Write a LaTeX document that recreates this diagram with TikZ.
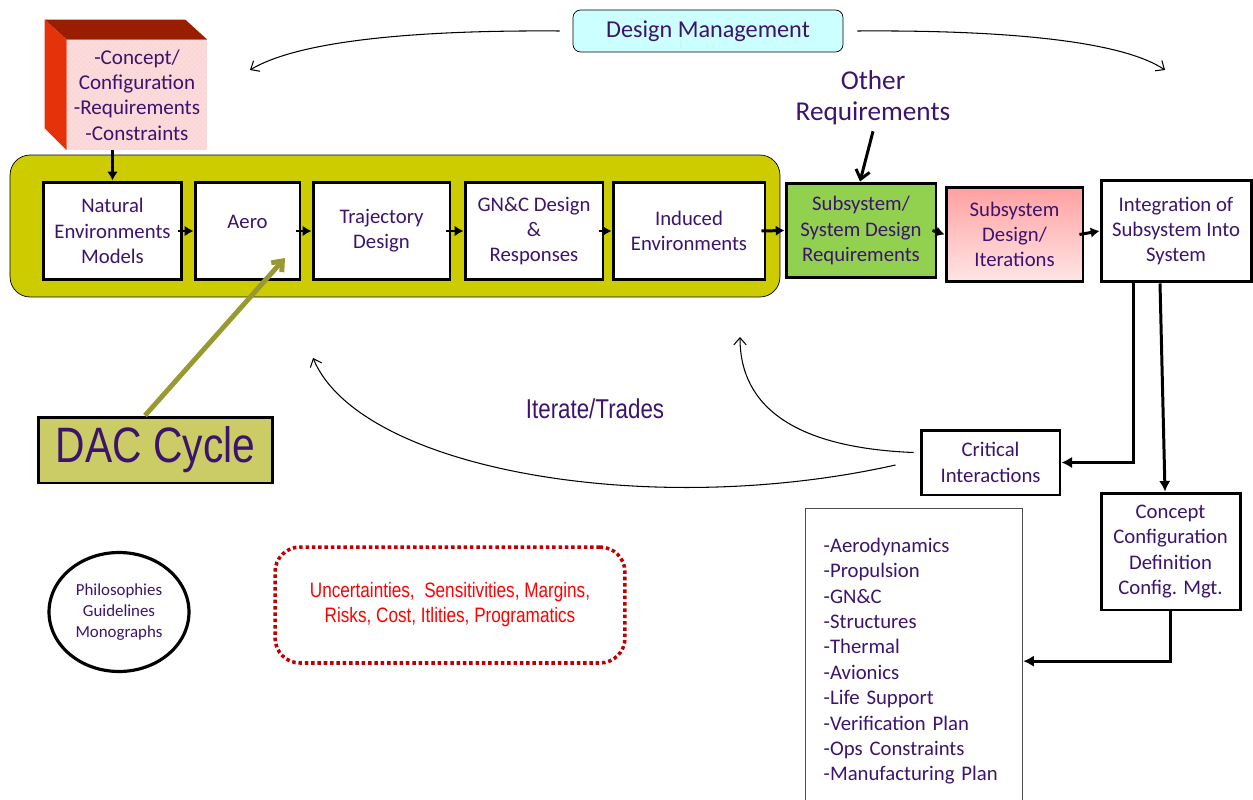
\documentclass[tikz,border=0pt]{standalone}
\usepackage{fontspec}
\setmainfont{Carlito}
\newfontfamily\narrowsans[FakeStretch=0.82]{Liberation Sans}
\usetikzlibrary{arrows.meta,shapes.geometric,patterns,calc}

\definecolor{textc}{RGB}{60,20,110}
\definecolor{bandc}{RGB}{204,204,0}
\definecolor{reqgreen}{RGB}{146,208,80}
\definecolor{itertop}{RGB}{255,160,160}
\definecolor{iterbot}{RGB}{255,230,230}
\definecolor{mgmtc}{RGB}{204,255,255}
\definecolor{dacc}{RGB}{204,204,102}
\definecolor{dacarr}{RGB}{153,153,51}
\definecolor{cubetop}{RGB}{153,30,0}
\definecolor{cubeside}{RGB}{230,50,10}
\definecolor{cubefront}{RGB}{250,218,218}
\definecolor{riskline}{RGB}{192,0,0}
\definecolor{risktext}{RGB}{255,0,0}

\begin{document}
\begin{tikzpicture}[x=0.02cm, y=-0.02cm,
    box/.style={draw, line width=1.7pt, fill=white, align=center, text=textc,
                font=\fontsize{11.8}{14.4}\selectfont, inner sep=2pt},
    link/.style={line width=1.7pt, -{Latex[length=5pt,width=6pt]}},
    feed/.style={line width=1.7pt, -{Latex[length=6pt,width=6.5pt]}},
    loopback/.style={line width=0.6pt, -{Straight Barb[length=4pt,width=7pt]}},
    label/.style={text=textc, align=center}]
    \useasboundingbox (0,0) rectangle (1253,800);

    % --- DAC band behind the analysis chain ---
    \node[draw, fill=bandc, rounded corners=0.4cm, minimum width=15.4cm, minimum height=2.84cm] (band) at (395,226) {};

    % --- Input cube ---
    \node[label, fill=cubefront, postaction={pattern=crosshatch dots, pattern color=red!18},
          minimum width=2.8cm, minimum height=2.2cm, inner sep=0pt,
          font=\fontsize{12}{14.5}\selectfont] (cube) at (137,95)
          {-Concept/\\Configuration\\-Requirements\\-Constraints};
    \fill[cubetop] (cube.north west) -- ++(-22,-20) -- ($(cube.north east)+(-0.44cm,0.4cm)$) -- (cube.north east) -- cycle;
    \fill[cubeside] (cube.north west) -- ++(-22,-20) -- ($(cube.south west)+(-0.44cm,0.44cm)$) -- (cube.south west) -- cycle;

    % --- Analysis chain ---
    \node[box, minimum width=2.78cm, minimum height=1.96cm] (nat) at (112.5,231) {Natural\\Environments\\Models};
    \node[box, minimum width=2.1cm, minimum height=1.96cm] (aero) at (247.5,231) {Aero\\[-4pt]};
    \node[box, minimum width=2.74cm, minimum height=1.96cm] (traj) at (381.5,231) {Trajectory\\Design};
    \node[box, minimum width=2.76cm, minimum height=1.96cm] (gnc) at (534,231) {GN\&C Design\\\&\\Responses};
    \node[box, minimum width=3.04cm, minimum height=1.96cm] (ind) at (689,231) {Induced\\Environments};

    % --- Subsystem chain ---
    \node[box, fill=reqgreen, minimum width=3.0cm, minimum height=1.9cm] (ssr) at (861,230.5) {Subsystem/\\System Design\\Requirements};
    \node[box, top color=itertop, bottom color=iterbot, minimum width=2.74cm, minimum height=1.9cm] (sdi) at (1014.5,234.5) {Subsystem\\Design/\\Iterations};
    \node[box, minimum width=3.0cm, minimum height=2.04cm] (integ) at (1176,231) {Integration of\\Subsystem Into\\System};

    \foreach \a/\b in {nat/aero, aero/traj, traj/gnc, gnc/ind, ind/ssr, ssr/sdi, sdi/integ}
        \draw[link] ([xshift=-0.1cm]\a.east) -- (\b.west);
    \draw[link] (nat.north |- cube.south) -- (nat.north);

    % --- Design management ---
    \node[draw, fill=mgmtc, rounded corners=0.15cm, minimum width=5.4cm, minimum height=0.84cm,
          label, font=\fontsize{13.8}{16}\selectfont] (mgmt) at (708,31) {Design Management};
    \coordinate (mgmtL) at (250,70);
    \coordinate (mgmtR) at (1165,70);
    \draw[loopback] ([xshift=-0.26cm]mgmt.west) .. controls (420,30) and (300,40) .. (mgmtL);
    \draw[loopback] ([xshift=0.28cm]mgmt.east) .. controls (1000,30) and (1120,40) .. (mgmtR);

    \node[label, font=\fontsize{15.5}{17.6}\selectfont] (oreq) at (873,98) {Other\\Requirements};
    \draw[line width=1.7pt, -{Straight Barb[length=5pt,width=8pt]}] (oreq.south) -- ([xshift=-0.02cm]ssr.north);

    % --- Integration outputs ---
    \node[box, minimum width=2.78cm, minimum height=1.3cm] (crit) at (990.5,462.5) {Critical\\Interactions};
    \node[box, minimum width=2.78cm, minimum height=2.34cm] (concept) at (1170.5,551.5) {Concept\\Configuration\\Definition\\Config. Mgt.};
    \node[draw=black!70, line width=0.8pt, text=textc, align=left, text width=3.62cm, inner xsep=0.36cm,
          minimum height=6.1cm, anchor=north west, font=\fontsize{11.8}{14.45}\selectfont] (list) at (805,508)
          {-Aerodynamics\\-Propulsion\\-GN\&C\\-Structures\\-Thermal\\-Avionics\\-Life Support\\-Verification Plan\\-Ops Constraints\\-Manufacturing Plan};

    \draw[feed] ([xshift=-0.86cm]integ.south) |- (crit.east);
    \draw[feed] ([xshift=-0.32cm]integ.south) -- ([xshift=-0.11cm]concept.north);
    \draw[feed] (concept.south) |- (list.east);

    % --- Iteration loops ---
    \coordinate (loopA) at (740,337);
    \coordinate (loopB) at (313,358);
    \draw[loopback] ([xshift=-0.12cm,yshift=0.2cm]crit.west) .. controls (800,448) and (740,410) .. (loopA);
    \draw[loopback] ([xshift=-0.48cm,yshift=-0.05cm]crit.west) .. controls (650,520) and (360,470) .. (loopB);
    \node[label, font=\narrowsans\fontsize{15.5}{18}\selectfont] (iter) at (595,409) {Iterate/Trades};

    % --- DAC cycle ---
    \node[draw, line width=1.7pt, fill=dacc, minimum width=4.7cm, minimum height=1.32cm,
          label, font=\narrowsans\fontsize{28.3}{30}\selectfont] (dac) at (155.5,450) {DAC Cycle};
    \coordinate (dactip) at (285,258);
    \draw[dacarr, line width=2.8pt, -{Straight Barb[length=5pt,width=8pt]}] ([xshift=-0.21cm]dac.north) -- (dactip);

    % --- Guidance and risk notes ---
    \node[ellipse, draw, line width=1.8pt, minimum width=2.8cm, minimum height=2.38cm,
          label, font=\fontsize{9.6}{12}\selectfont] (phil) at (119,612) {Philosophies\\Guidelines\\Monographs};
    \node[draw=riskline, line width=2pt, dash pattern=on 2pt off 1.6pt, rounded corners=0.5cm,
          minimum width=7cm, minimum height=2.32cm, text=risktext, align=center,
          font=\narrowsans\fontsize{11.9}{14.2}\selectfont] (risk) at (450,605)
          {Uncertainties,\ \ Sensitivities, Margins,\\Risks, Cost, Itlities, Programatics};
\end{tikzpicture}
\end{document}
